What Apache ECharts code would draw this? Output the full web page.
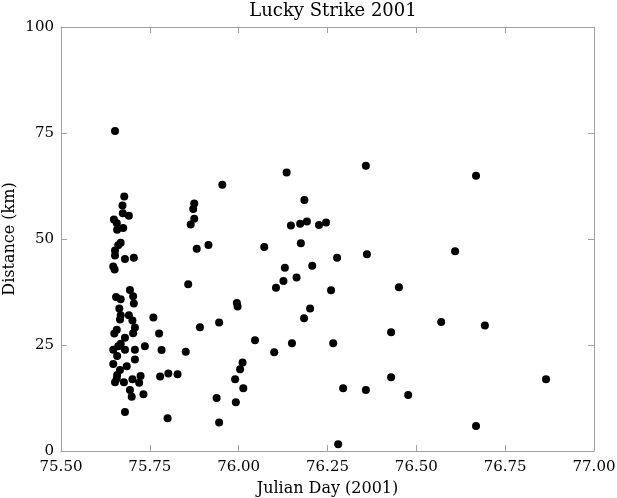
<!DOCTYPE html>
<html>
<head>
<meta charset="utf-8">
<script src="https://cdn.jsdelivr.net/npm/echarts@6/dist/echarts.min.js"></script>
<style>
html,body{margin:0;padding:0;background:#fff;}
#chart{width:617px;height:498px;}
</style>
</head>
<body>
<div id="chart"></div>
<script>
// Julian day (2001) of each observation
const julianDay = [
  75.652, 75.678, 75.673, 75.674, 75.691, 75.649, 75.657, 75.675, 75.658, 75.668,
  75.661, 75.652, 75.652, 75.680, 75.705, 75.647, 75.651, 75.694, 75.703, 75.655,
  75.668, 75.705, 75.664, 75.668, 75.691, 75.666, 75.701, 75.708, 75.657, 75.703,
  75.650, 75.680, 75.668, 75.661, 75.647, 75.680, 75.708, 75.658, 75.647, 75.685,
  75.708, 75.666, 75.658, 75.657, 75.652, 75.677, 75.701, 75.724, 75.720, 75.694,
  75.732, 75.699, 75.680, 75.736,
  75.995, 75.997, 75.760, 75.945, 75.891, 75.776, 75.783, 75.851, 76.011, 76.004,
  75.990, 76.013, 75.779, 75.802, 75.828, 75.938, 75.992, 75.800, 75.945,
  76.135, 75.954, 76.185, 75.875, 75.872, 75.875, 75.865, 76.147, 76.173, 76.192,
  76.226, 76.246, 75.915, 75.882, 76.072, 76.175, 76.207, 76.130, 76.126, 76.163,
  76.105, 75.858, 76.201, 76.184,
  76.046, 76.100, 76.150, 76.260, 76.266, 76.280, 76.277, 76.294, 76.358, 76.361,
  76.358, 76.429, 76.429, 76.451, 76.477, 76.570, 76.609, 76.668, 76.668, 76.693,
  76.865
];
// Distance (km) of each observation
const distanceKm = [
  75.5, 60.0, 57.9, 56.1, 55.5, 54.6, 53.7, 52.6, 52.2, 49.1,
  48.5, 47.3, 46.1, 45.3, 45.6, 43.5, 42.8, 38.0, 36.5, 36.3,
  35.8, 34.8, 33.6, 32.0, 32.0, 31.0, 30.8, 29.1, 28.6, 27.8,
  27.7, 26.7, 25.3, 24.7, 23.9, 23.9, 23.9, 22.4, 20.5, 20.0,
  21.6, 19.1, 17.9, 17.1, 16.2, 16.2, 16.9, 17.7, 16.1, 14.4,
  13.4, 12.8, 9.2, 24.7,
  34.9, 34.1, 31.5, 30.3, 29.2, 27.7, 23.8, 23.4, 20.9, 19.3,
  16.9, 14.8, 17.6, 18.3, 18.1, 12.5, 11.5, 7.7, 6.7,
  65.7, 62.8, 59.2, 58.4, 57.1, 54.8, 53.4, 53.2, 53.6, 54.1,
  53.3, 53.9, 48.6, 47.7, 48.1, 49.0, 43.7, 43.2, 40.1, 40.9,
  38.5, 39.3, 33.6, 31.3,
  26.1, 23.3, 25.4, 37.9, 25.4, 1.6, 45.6, 14.8, 67.3, 46.4,
  14.4, 28.0, 17.4, 38.6, 13.2, 30.4, 47.1, 64.9, 5.9, 29.6,
  16.9
];
const xTicks = [75.50, 75.75, 76.00, 76.25, 76.50, 76.75, 77.00];
const yTicks = [0, 25, 50, 75, 100];
const chartTitle = 'Lucky Strike 2001';
const xName = 'Julian Day (2001)';
const yName = 'Distance (km)';

const points = julianDay.map((d, i) => [d, distanceKm[i]]);
const FONT = 'DejaVu Serif';
const frame = { show: true, onZero: false, lineStyle: { color: '#a0a0a0', width: 1 } };
const tickIn = { show: true, inside: true, length: 6, lineStyle: { color: '#a0a0a0', width: 1 } };
const xMin = xTicks[0], xMax = xTicks[xTicks.length - 1];
const xInt = xTicks[1] - xTicks[0];
const yMin = yTicks[0], yMax = yTicks[yTicks.length - 1];
const yInt = yTicks[1] - yTicks[0];

const chart = echarts.init(document.getElementById('chart'), null, { renderer: 'canvas' });
chart.setOption({
  animation: false,
  backgroundColor: '#ffffff',
  title: {
    text: chartTitle,
    left: 328, top: -3, textAlign: 'center',
    textStyle: { fontFamily: FONT, fontSize: 18, fontWeight: 'normal', color: '#000' }
  },
  grid: { left: 61, right: 23, top: 27, bottom: 47, containLabel: false, outerBoundsMode: 'none' },
  xAxis: [{
    type: 'value', position: 'bottom', min: xMin, max: xMax, interval: xInt,
    axisLine: frame, axisTick: tickIn, splitLine: { show: false },
    axisLabel: { color: '#000', fontFamily: FONT, fontSize: 15, margin: 9,
      formatter: v => v.toFixed(2) },
    name: xName, nameLocation: 'middle', nameGap: 30, nameMoveOverlap: false,
    nameTextStyle: { color: '#000', fontFamily: FONT, fontSize: 16 }
  }, {
    type: 'value', position: 'top', min: xMin, max: xMax, interval: xInt,
    axisLine: frame, axisTick: tickIn, splitLine: { show: false },
    axisLabel: { show: false }
  }],
  yAxis: [{
    type: 'value', position: 'left', min: yMin, max: yMax, interval: yInt,
    axisLine: frame, axisTick: tickIn, splitLine: { show: false },
    axisLabel: { color: '#000', fontFamily: FONT, fontSize: 15, margin: 7 },
    name: yName, nameLocation: 'middle', nameGap: 43, nameRotate: 90, nameMoveOverlap: false,
    nameTextStyle: { color: '#000', fontFamily: FONT, fontSize: 16 }
  }, {
    type: 'value', position: 'right', min: yMin, max: yMax, interval: yInt,
    axisLine: frame, axisTick: tickIn, splitLine: { show: false },
    axisLabel: { show: false }
  }],
  series: [{
    type: 'scatter',
    xAxisIndex: 0, yAxisIndex: 0,
    data: points,
    symbol: 'circle',
    symbolSize: 8,
    itemStyle: { color: '#000', opacity: 1 },
    silent: true
  }]
});
</script>
</body>
</html>
